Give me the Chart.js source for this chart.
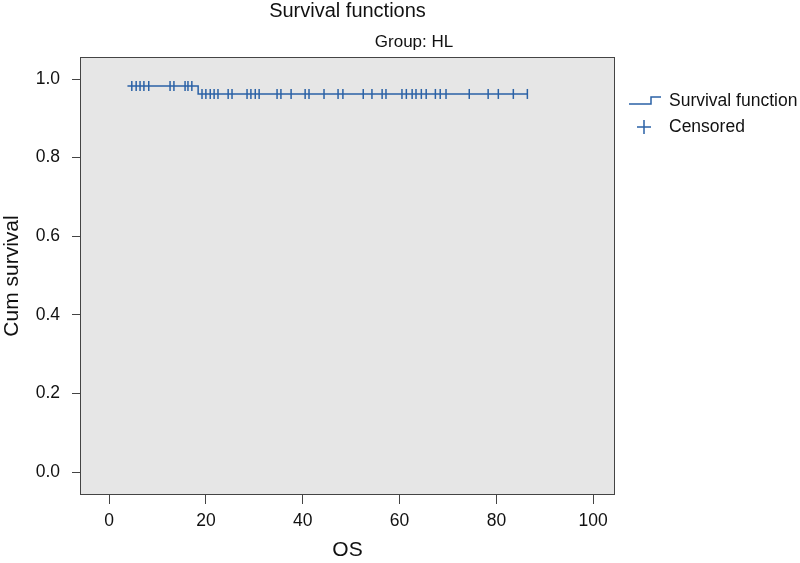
<!DOCTYPE html>
<html lang="en">
<head>
  <meta charset="UTF-8" />
  <title>Survival functions</title>
  <script src="https://cdn.jsdelivr.net/npm/chart.js"></script>
  <style>
    html, body { margin: 0; padding: 0; background: #fff; }
    #wrap { width: 800px; height: 563px; position: relative; }
  </style>
</head>
<body>
<div id="wrap"><canvas id="km" width="800" height="563"></canvas></div>
<script>
  // survival curve (time, cumulative survival)
  const stepTimes = [3.8, 18.4, 86.4];
  const stepSurvival = [0.982, 0.962, 0.962];

  // censored cases
  const censoredHigh = [4.7, 5.6, 6.4, 7.2, 8.2, 12.6, 13.4, 15.7, 16.3, 17.1];
  const censoredLow = [19.2, 20.0, 20.9, 21.7, 22.5, 24.6, 25.4, 28.5, 29.3, 30.2, 31.0,
    34.7, 35.5, 37.6, 40.5, 41.3, 44.4, 47.3, 48.3, 52.5, 54.3, 56.4, 57.2, 60.5, 61.4,
    62.6, 63.4, 64.5, 65.5, 67.4, 68.4, 69.6, 74.4, 78.3, 80.4, 83.5, 86.4];

  const xTicks = [0, 20, 40, 60, 80, 100];
  const yTicks = [0.0, 0.2, 0.4, 0.6, 0.8, 1.0];

  const blue = '#2b62a6';
  const font = "'Liberation Sans', Arial, sans-serif";

  const censoredPts = censoredHigh.map(t => ({ x: t, y: stepSurvival[0] }))
    .concat(censoredLow.map(t => ({ x: t, y: stepSurvival[1] })));

  const frame = {
    id: 'frame',
    beforeDatasetsDraw(chart) {
      const { ctx, chartArea: a } = chart;
      ctx.save();
      ctx.fillStyle = '#e6e6e6';
      ctx.fillRect(a.left, a.top, a.right - a.left, a.bottom - a.top);
      ctx.restore();
    },
    afterDraw(chart) {
      const { ctx, chartArea: a } = chart;
      ctx.save();
      ctx.strokeStyle = '#444';
      ctx.lineWidth = 1;
      ctx.strokeRect(a.left + 0.5, a.top + 0.5, a.right - a.left - 1, a.bottom - a.top - 1);

      ctx.fillStyle = '#111';
      ctx.textAlign = 'center';
      ctx.textBaseline = 'middle';
      ctx.font = '20px ' + font;
      ctx.fillText('Survival functions', (a.left + a.right) / 2, 11);
      ctx.font = '17px ' + font;
      ctx.fillText('Group: HL', 414, 42);

      // legend
      const lx = 629;
      ctx.strokeStyle = blue;
      ctx.lineWidth = 1.5;
      ctx.beginPath();
      ctx.moveTo(lx, 104);
      ctx.lineTo(lx + 22, 104);
      ctx.lineTo(lx + 22, 97);
      ctx.lineTo(lx + 32, 97);
      ctx.stroke();
      ctx.beginPath();
      ctx.moveTo(lx + 8, 127);
      ctx.lineTo(lx + 22, 127);
      ctx.moveTo(lx + 15, 120);
      ctx.lineTo(lx + 15, 134);
      ctx.stroke();
      ctx.fillStyle = '#111';
      ctx.textAlign = 'left';
      ctx.font = '17.5px ' + font;
      ctx.fillText('Survival function', 669, 101);
      ctx.fillText('Censored', 669, 127);
      ctx.restore();
    }
  };

  new Chart(document.getElementById('km'), {
    type: 'scatter',
    data: {
      datasets: [
        {
          label: 'Survival function',
          type: 'line',
          data: stepTimes.map((t, i) => ({ x: t, y: stepSurvival[i] })),
          stepped: true,
          borderColor: blue,
          borderWidth: 1.5,
          pointRadius: 0,
          fill: false
        },
        {
          label: 'Censored',
          data: censoredPts,
          pointStyle: 'line',
          rotation: 90,
          radius: 5,
          borderColor: blue,
          backgroundColor: blue,
          borderWidth: 1.5
        }
      ]
    },
    options: {
      responsive: false,
      animation: false,
      layout: { padding: { top: 57, right: 185, left: 0, bottom: 0 } },
      plugins: {
        legend: { display: false },
        tooltip: { enabled: false }
      },
      scales: {
        x: {
          type: 'linear',
          min: -6,
          max: 104.5,
          afterBuildTicks(s) { s.ticks = xTicks.map(v => ({ value: v })); },
          afterFit(s) { s.height = 68; },
          ticks: { color: '#111', font: { family: font, size: 17.5 }, padding: 7, maxRotation: 0 },
          grid: { drawOnChartArea: false, drawTicks: true, tickLength: 9, color: '#444' },
          border: { display: false },
          title: { display: true, text: 'OS', color: '#111', font: { family: font, size: 21 }, padding: 0 }
        },
        y: {
          type: 'linear',
          min: -0.058,
          max: 1.056,
          afterBuildTicks(s) { s.ticks = yTicks.map(v => ({ value: v })); },
          afterFit(s) { s.width = 80; },
          ticks: { color: '#111', font: { family: font, size: 17.5 }, padding: 12, callback: v => v.toFixed(1) },
          grid: { drawOnChartArea: false, drawTicks: true, tickLength: 8, color: '#444' },
          border: { display: false },
          title: { display: true, text: 'Cum survival', color: '#111', font: { family: font, size: 21 }, padding: 0 }
        }
      }
    },
    plugins: [frame]
  });
</script>
</body>
</html>
